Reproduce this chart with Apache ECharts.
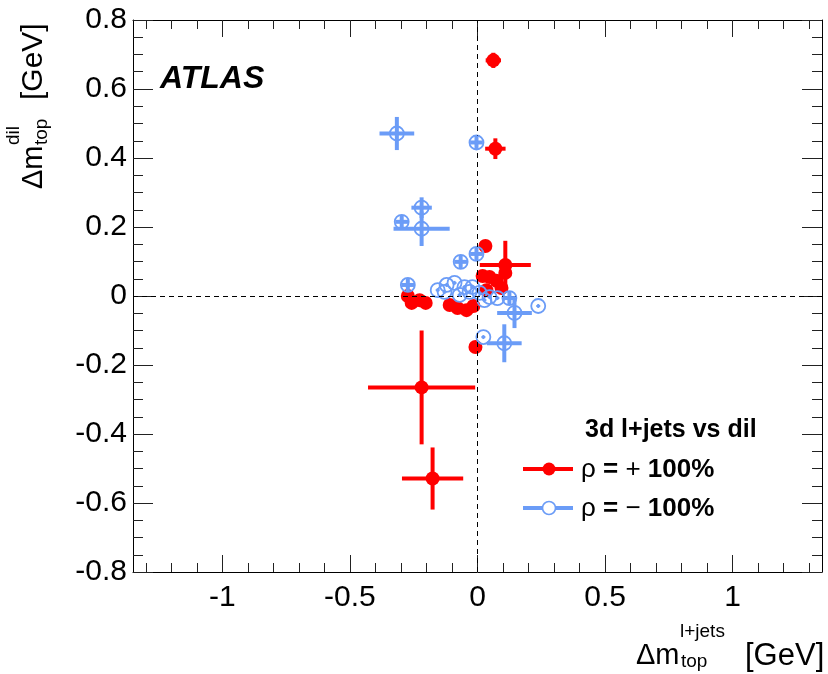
<!DOCTYPE html>
<html><head><meta charset="utf-8">
<script src="https://cdn.jsdelivr.net/npm/echarts@6/dist/echarts.min.js"></script>
<style>html,body{margin:0;padding:0;background:#fff}#c{width:828px;height:674px}</style>
</head><body><div id="c"></div>
<script>
// rho = +100% (red, filled)
const redX    = [0.062, 0.070, 0.109, 0.109, 0.031, 0.020, 0.047, 0.074, 0.094, 0.035, -0.273, -0.258, -0.227, -0.203, -0.109, -0.078, -0.043, -0.016, -0.008, -0.219, -0.176];
const redY    = [0.683, 0.427, 0.090, 0.067, 0.145, 0.058, 0.055, 0.044, 0.023, 0.017, 0.000, -0.020, -0.012, -0.020, -0.026, -0.035, -0.041, -0.029, -0.148, -0.265, -0.529];
const redXErr = [0.030, 0.040, 0.100, 0.010, 0.005, 0.005, 0.005, 0.005, 0.005, 0.005, 0.005, 0.005, 0.005, 0.005, 0.005, 0.005, 0.005, 0.005, 0.005, 0.210, 0.120];
const redYErr = [0.022, 0.030, 0.070, 0.010, 0.005, 0.005, 0.005, 0.005, 0.005, 0.005, 0.005, 0.005, 0.005, 0.005, 0.005, 0.005, 0.005, 0.005, 0.005, 0.165, 0.090];
// rho = -100% (blue, open)
const blueX    = [-0.316, -0.004, -0.297, -0.219, -0.219, -0.066, -0.004, -0.273, -0.156, -0.121, -0.090, -0.051, -0.031, -0.070, -0.020, 0.008, 0.047, 0.078, 0.125, 0.145, 0.238, 0.023, 0.105, -0.129, 0.027];
const blueY    = [0.471, 0.445, 0.215, 0.256, 0.195, 0.099, 0.122, 0.032, 0.017, 0.032, 0.038, 0.026, 0.012, 0.003, 0.026, 0.009, -0.003, -0.006, -0.006, -0.049, -0.029, -0.119, -0.137, 0.012, -0.012];
const blueXErr = [0.068, 0.025, 0.025, 0.040, 0.110, 0.025, 0.025, 0.025, 0.004, 0.004, 0.004, 0.004, 0.004, 0.004, 0.004, 0.004, 0.004, 0.004, 0.025, 0.068, 0.004, 0.004, 0.068, 0.004, 0.004];
const blueYErr = [0.048, 0.020, 0.020, 0.030, 0.050, 0.020, 0.020, 0.020, 0.003, 0.003, 0.003, 0.003, 0.003, 0.003, 0.003, 0.003, 0.003, 0.003, 0.020, 0.044, 0.003, 0.003, 0.055, 0.003, 0.003];

const xMajorTicks = [-1, -0.5, 0, 0.5, 1];
const xMinorTicks = [-1.3, -1.2, -1.1, -0.9, -0.8, -0.7, -0.6, -0.4, -0.3, -0.2, -0.1, 0.1, 0.2, 0.3, 0.4, 0.6, 0.7, 0.8, 0.9, 1.1, 1.2, 1.3];
const xRange = [-1.35, 1.35];
const yRange = [-0.8, 0.8];
const yStep = 0.2;

const RED = '#ff0000';
const BLUE = '#6b9cf7';
const FONT = "'Liberation Sans', Arial, Helvetica, sans-serif";

function zip(a, b, c, d) { return a.map((v, i) => [v, b[i], c[i], d[i]]); }
const redData = zip(redX, redY, redXErr, redYErr);
const blueData = zip(blueX, blueY, blueXErr, blueYErr);

function errRender(color) {
  return function (params, api) {
    const x = api.value(0), y = api.value(1), xe = api.value(2), ye = api.value(3);
    const l = api.coord([x - xe, y]), r = api.coord([x + xe, y]);
    const t = api.coord([x, y + ye]), b = api.coord([x, y - ye]);
    return {
      type: 'group',
      children: [
        { type: 'line', shape: { x1: l[0], y1: l[1], x2: r[0], y2: r[1] }, style: { stroke: color, lineWidth: 4 } },
        { type: 'line', shape: { x1: t[0], y1: t[1], x2: b[0], y2: b[1] }, style: { stroke: color, lineWidth: 4 } }
      ]
    };
  };
}

const lineStyle = { color: '#000', width: 1 };
const tickStyle = { color: '#222', width: 1 };

function xAxisDef(pos, major, labels) {
  return {
    type: 'value', position: pos, min: xRange[0], max: xRange[1],
    axisLine: { show: major, onZero: false, lineStyle: lineStyle },
    axisTick: { show: true, inside: true, length: major ? 17 : 9, customValues: major ? xMajorTicks : xMinorTicks, lineStyle: tickStyle },
    axisLabel: labels ? { show: true, customValues: xMajorTicks, fontSize: 30, fontFamily: FONT, color: '#000', margin: 11 } : { show: false },
    splitLine: { show: false }
  };
}
function yAxisDef(pos, labels) {
  return {
    type: 'value', position: pos, min: yRange[0], max: yRange[1], interval: yStep,
    axisLine: { show: true, onZero: false, lineStyle: lineStyle },
    axisTick: { show: true, inside: true, length: 20, lineStyle: tickStyle },
    minorTick: { show: true, splitNumber: 4, length: 10, lineStyle: tickStyle },
    axisLabel: labels ? { show: true, fontSize: 30, fontFamily: FONT, color: '#000', margin: 6 } : { show: false },
    splitLine: { show: false }
  };
}

function txt(x, y, text, size, font) {
  return {
    type: 'text', x: x, y: y,
    style: { text: text, font: font || (size + 'px ' + FONT), fill: '#000', verticalAlign: 'middle', align: 'left' }
  };
}

const chart = echarts.init(document.getElementById('c'), null, { renderer: 'canvas' });
chart.setOption({
  animation: false,
  backgroundColor: '#fff',
  grid: { left: 133, right: 6, top: 20, bottom: 102, containLabel: false },
  xAxis: [xAxisDef('bottom', true, true), xAxisDef('bottom', false, false), xAxisDef('top', true, false), xAxisDef('top', false, false)],
  yAxis: [yAxisDef('left', true), yAxisDef('right', false)],
  series: [
    {
      type: 'scatter', name: 'zero', xAxisIndex: 0, yAxisIndex: 0, data: [], z: 1,
      markLine: { silent: true, symbol: ['none', 'none'], label: { show: false }, animation: false,
        lineStyle: { color: '#000', type: [5, 4], width: 1 }, data: [{ xAxis: 0 }, { yAxis: 0 }] }
    },
    { type: 'custom', name: 'redErr', xAxisIndex: 0, yAxisIndex: 0, data: redData, encode: { x: 0, y: 1 }, renderItem: errRender(RED), z: 2 },
    { type: 'scatter', name: 'red', xAxisIndex: 0, yAxisIndex: 0, data: redData, encode: { x: 0, y: 1 }, symbol: 'circle', symbolSize: 14, itemStyle: { color: RED, opacity: 1 }, z: 3 },
    { type: 'scatter', name: 'blue', xAxisIndex: 0, yAxisIndex: 0, data: blueData, encode: { x: 0, y: 1 }, symbol: 'circle', symbolSize: 14, itemStyle: { color: 'rgba(0,0,0,0)', borderColor: BLUE, borderWidth: 1.8, opacity: 1 }, z: 4 },
    { type: 'custom', name: 'blueErr', xAxisIndex: 0, yAxisIndex: 0, data: blueData, encode: { x: 0, y: 1 }, renderItem: errRender(BLUE), z: 5 }
  ],
  graphic: [
    // ATLAS label
    txt(160, 79, 'ATLAS', 32, 'italic bold 32px ' + FONT),
    // x-axis title
    txt(636, 656, 'Δm', 29),
    txt(680, 632, 'l+jets', 19),
    txt(681, 662, 'top', 19),
    txt(745, 656, '[GeV]', 31),
    // y-axis title (rotated)
    {
      type: 'group', x: 44, y: 189, rotation: Math.PI / 2,
      children: [
        txt(0, -10, 'Δm', 29),
        txt(44, -30, 'dil', 19),
        txt(44, -2, 'top', 19),
        txt(89, -10, '[GeV]', 30)
      ]
    },
    // legend
    txt(585, 430, '3d l+jets vs dil', 26, 'bold 25px ' + FONT),
    { type: 'line', shape: { x1: 523, y1: 469, x2: 573, y2: 469 }, style: { stroke: RED, lineWidth: 4 } },
    { type: 'circle', shape: { cx: 549, cy: 469, r: 6.5 }, style: { fill: RED } },
    {
      type: 'text', x: 581, y: 470,
      style: { text: '{r|ρ }{b|= }{r|+ }{b|100%}', verticalAlign: 'middle', align: 'left', fill: '#000',
        rich: { r: { font: '26px ' + FONT }, b: { font: 'bold 26px ' + FONT } } }
    },
    { type: 'line', shape: { x1: 523, y1: 508, x2: 573, y2: 508 }, style: { stroke: BLUE, lineWidth: 4 } },
    { type: 'circle', shape: { cx: 549, cy: 508, r: 6.5 }, style: { fill: '#fff', stroke: BLUE, lineWidth: 1.6 } },
    {
      type: 'text', x: 581, y: 509,
      style: { text: '{r|ρ }{b|= }{r|− }{b|100%}', verticalAlign: 'middle', align: 'left', fill: '#000',
        rich: { r: { font: '26px ' + FONT }, b: { font: 'bold 26px ' + FONT } } }
    }
  ]
});
</script>
</body></html>
